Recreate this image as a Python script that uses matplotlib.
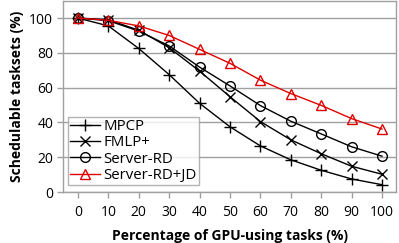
import matplotlib
matplotlib.use("Agg")
import matplotlib.pyplot as plt

x = [0, 10, 20, 30, 40, 50, 60, 70, 80, 90, 100]
mpcp = [100, 95.5, 82.5, 67.5, 51, 37.5, 26.5, 18.5, 12.5, 7.5, 4.2]
fmlp = [100, 99, 93, 83, 69.5, 54.8, 40.5, 30, 22, 14.8, 10.2]
server_rd = [100, 98.5, 92.5, 84, 71.8, 61, 49.7, 40.7, 33.4, 26, 20.6]
server_rdjd = [100, 98.7, 95.5, 90, 82, 74, 64.3, 56.6, 49.8, 42.2, 36.2]
labels = ["MPCP", "FMLP+", "Server-RD", "Server-RD+JD"]

plt.rcParams['font.family'] = ['Open Sans', 'DejaVu Sans']
gray = '#a0a0a0'

fig = plt.figure(figsize=(3.99, 2.43), dpi=100)
ax = fig.add_axes([63/399, 51/243, 333/399, 191/243])

ax.plot(x, mpcp, color='black', lw=1, marker='+', ms=8, mew=1, label=labels[0])
ax.plot(x, fmlp, color='black', lw=1, marker='x', ms=6.5, mew=1, label=labels[1])
ax.plot(x, server_rd, color='black', lw=1, marker='o', ms=7, mew=1, mfc='none', label=labels[2])
ax.plot(x, server_rdjd, color='#e00000', lw=1, marker='^', ms=7.5, mew=1, mfc='none', label=labels[3])

ax.set_xlim(-4.9, 104.6)
ax.set_ylim(0, 109.8)
ax.set_xticks(x)
ax.set_yticks([0, 20, 40, 60, 80, 100])
ax.yaxis.grid(True, color=gray, lw=1)
ax.set_axisbelow(True)
for s in ax.spines.values():
    s.set_color(gray)
    s.set_linewidth(1)
ax.tick_params(axis='both', colors=gray, labelcolor='black', labelsize=10, length=4, width=1, direction='out')
ax.tick_params(axis='x', pad=5)
ax.tick_params(axis='y', pad=3)

ax.set_xlabel('Percentage of GPU-using tasks (%)', fontsize=10, fontweight='bold', labelpad=7)
ax.set_ylabel('Schedulable tasksets (%)', fontsize=10, fontweight='bold', labelpad=4)

leg = ax.legend(loc='lower left', bbox_to_anchor=(5/333, 7/191), fontsize=10.8, frameon=True, fancybox=False,
                handlelength=2.0, handletextpad=0.2, borderpad=0.15, labelspacing=0.08, borderaxespad=0)
leg.get_frame().set_edgecolor(gray)
leg.get_frame().set_linewidth(1)

fig.savefig('out.png', dpi=100)
